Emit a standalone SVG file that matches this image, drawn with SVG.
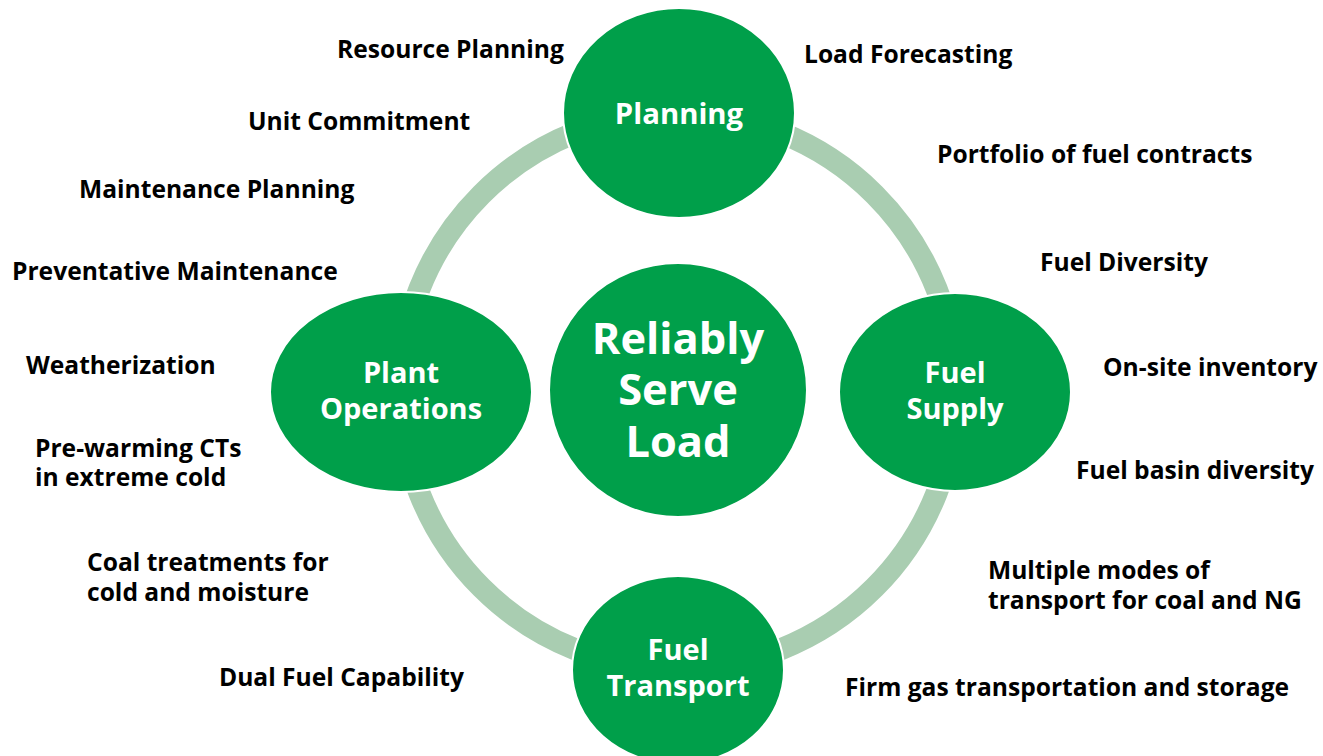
<svg xmlns="http://www.w3.org/2000/svg" width="1323" height="756" viewBox="0 0 1323 756">
<style>
.lbl{font-family:"Open Sans","Noto Sans",sans-serif;font-weight:700;font-size:24.6px;fill:#000}
.node{fill:#009f4a;stroke:#ffffff;stroke-width:2}
.nt{font-family:"Open Sans","Noto Sans",sans-serif;font-weight:700;fill:#fff;text-anchor:middle}
.ring{fill:none;stroke:#a9cdb1;stroke-width:22}
</style>
<rect width="1323" height="756" fill="#fff"/>
<g id="connectors">
<circle class="ring" cx="678" cy="391" r="278"/>
</g>
<g id="planning">
<ellipse class="node" cx="679" cy="113" rx="116" ry="105"/>
<text class="nt" x="679" y="124" font-size="29.3">Planning</text>
</g>
<g id="center">
<ellipse class="node" cx="678" cy="390" rx="129" ry="127"/>
<text class="nt" x="678" y="354" font-size="43.4">Reliably</text>
<text class="nt" x="678" y="405" font-size="43.4">Serve</text>
<text class="nt" x="678" y="457" font-size="43.4">Load</text>
</g>
<g id="fuel-supply">
<ellipse class="node" cx="955" cy="392" rx="116" ry="99"/>
<text class="nt" x="955" y="383" font-size="29">Fuel</text>
<text class="nt" x="955" y="419" font-size="29">Supply</text>
</g>
<g id="plant-operations">
<ellipse class="node" cx="401" cy="392" rx="131" ry="100"/>
<text class="nt" x="401" y="383" font-size="29">Plant</text>
<text class="nt" x="401" y="419" font-size="29">Operations</text>
</g>
<g id="fuel-transport">
<ellipse class="node" cx="678" cy="670" rx="106" ry="94"/>
<text class="nt" x="678" y="660" font-size="29">Fuel</text>
<text class="nt" x="678" y="696" font-size="29">Transport</text>
</g>
<g id="labels">
<text class="lbl" x="337" y="58">Resource Planning</text>
<text class="lbl" x="804" y="63">Load Forecasting</text>
<text class="lbl" x="248" y="130">Unit Commitment</text>
<text class="lbl" x="937" y="163">Portfolio of fuel contracts</text>
<text class="lbl" x="79" y="198">Maintenance Planning</text>
<text class="lbl" x="1040" y="271">Fuel Diversity</text>
<text class="lbl" x="12" y="280">Preventative Maintenance</text>
<text class="lbl" x="26" y="374">Weatherization</text>
<text class="lbl" x="1103" y="376">On-site inventory</text>
<text class="lbl" x="35" y="457">Pre-warming CTs</text>
<text class="lbl" x="35" y="486">in extreme cold</text>
<text class="lbl" x="1076" y="479">Fuel basin diversity</text>
<text class="lbl" x="87" y="571">Coal treatments for</text>
<text class="lbl" x="87" y="601">cold and moisture</text>
<text class="lbl" x="988" y="579">Multiple modes of</text>
<text class="lbl" x="988" y="609">transport for coal and NG</text>
<text class="lbl" x="219" y="686">Dual Fuel Capability</text>
<text class="lbl" x="845" y="696">Firm gas transportation and storage</text>
</g>
</svg>
